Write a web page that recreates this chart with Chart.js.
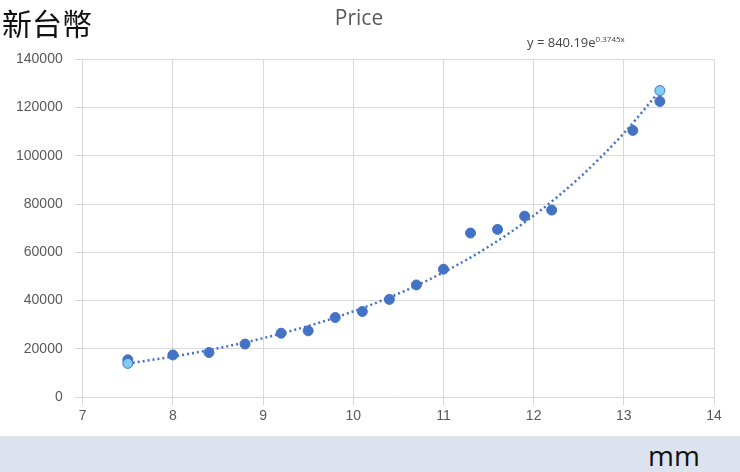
<!DOCTYPE html>
<html><head><meta charset="utf-8">
<script src="https://cdn.jsdelivr.net/npm/chart.js@4/dist/chart.umd.min.js"></script>
<style>
body{margin:0;width:740px;height:472px;background:#fff;position:relative;overflow:hidden;font-family:"Open Sans",sans-serif}
#wrap{position:absolute;left:0;top:0;width:740px;height:436px}
#band{position:absolute;left:0;top:436px;width:740px;height:36px;background:#dce3ee}
#unit{position:absolute;left:648px;top:436px;font-size:28px;color:#111}
#cur{position:absolute;left:2px;top:0;font-size:30px;color:#111;font-family:"Noto Sans CJK TC",sans-serif}
#eq{position:absolute;left:527px;top:33px;font-size:13px;color:#444}
#eq sup{font-size:8px}
</style></head><body>
<div id="wrap"><canvas id="c"></canvas></div>
<div id="band"></div><div id="unit">mm</div>
<div id="cur">新台幣</div>
<div id="eq">y = 840.19e<sup>0.3745x</sup></div>
<script>
// points
const sizeMm = [7.5, 8, 8.4, 8.8, 9.2, 9.5, 9.8, 10.1, 10.4, 10.7, 11, 11.3, 11.6, 11.9, 12.2, 13.1, 13.4];
const priceTwd = [15500, 17500, 18500, 22000, 26500, 27500, 33000, 35500, 40500, 46500, 53000, 68000, 69500, 75000, 77500, 110500, 122500];
const highlightX = [7.5, 13.4];
const highlightY = [14000, 127000];
// trendline y = 840.19e^0.3745x, read at half-mm steps
const trendX = [7.5, 8, 8.5, 9, 9.5, 10, 10.5, 11, 11.5, 12, 12.5, 13, 13.4];
const trendY = [13940, 16810, 20270, 24440, 29480, 35540, 42870, 51710, 62350, 75200, 90670, 109330, 126960];

const pts = (xs, ys) => xs.map((x, i) => ({x, y: ys[i]}));
new Chart(document.getElementById('c'), {
  type: 'scatter',
  data: {datasets: [
    {data: pts(trendX, trendY), type: 'line', showLine: true, borderColor: '#4472c4', borderWidth: 2.5,
     borderDash: [2, 3], pointRadius: 0, cubicInterpolationMode: 'monotone', order: 3},
    {data: pts(sizeMm, priceTwd), backgroundColor: '#4472c4', borderColor: '#4472c4', pointRadius: 5, order: 2},
    {data: pts(highlightX, highlightY), backgroundColor: '#7fcdf3', borderColor: '#4472c4', borderWidth: 1, pointRadius: 5, order: 1}
  ]},
  options: {
    responsive: true, maintainAspectRatio: false, animation: false,
    layout: {padding: {left: 4, right: 26, top: 0, bottom: 8}},
    plugins: {legend: {display: false}, tooltip: {enabled: false},
      title: {display: true, text: 'Price', color: '#595959', font: {size: 21, family: 'Open Sans', weight: 'normal'}, padding: {top: 6, bottom: 28}}},
    scales: {
      x: {min: 7, max: 14, ticks: {stepSize: 1, color: '#595959', font: {size: 14}},
          grid: {color: '#d9d9d9'}, border: {color: '#d9d9d9'}},
      y: {min: 0, max: 140000, ticks: {stepSize: 20000, color: '#595959', font: {size: 14}, padding: 12,
          callback: v => String(v)},
          grid: {color: '#d9d9d9'}, border: {display: false}}
    }
  }
});
</script>
</body></html>
